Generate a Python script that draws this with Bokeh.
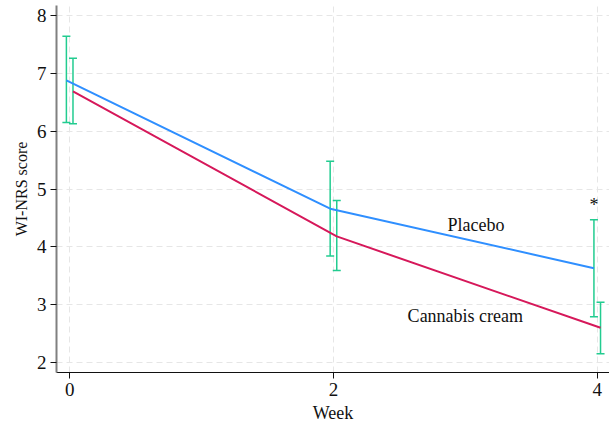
from bokeh.plotting import figure
from bokeh.models import ColumnDataSource, Whisker, TeeHead, FixedTicker, Range1d
from bokeh.core.properties import value
from bokeh.embed import file_html
from bokeh.resources import INLINE

weeks = [0, 2, 4]
placebo_mean = [6.88, 4.66, 3.63]
placebo_lower = [6.15, 3.84, 2.79]
placebo_upper = [7.64, 5.48, 4.47]
cannabis_mean = [6.69, 4.18, 2.60]
cannabis_lower = [6.13, 3.59, 2.15]
cannabis_upper = [7.26, 4.80, 3.04]
offset = 0.025
y_ticks = [2, 3, 4, 5, 6, 7, 8]
x_ticks = [0, 2, 4]

FONT = "Liberation Serif"
BLUE = "#2f8fff"
RED = "#d6185a"
GREEN = "#22cc90"

p = figure(width=609, height=426, output_backend="svg", toolbar_location=None,
           x_range=Range1d(-0.10, 4.093), y_range=Range1d(1.827, 8.173),
           min_border_left=56, min_border_right=0, min_border_top=5, min_border_bottom=54)
p.outline_line_color = None
p.background_fill_color = "white"

px = [w - offset for w in weeks]
cx = [w + offset for w in weeks]

p.line(px, placebo_mean, line_color=BLUE, line_width=2)
p.line(cx, cannabis_mean, line_color=RED, line_width=2)

for xs, lo, hi in [(px, placebo_lower, placebo_upper), (cx, cannabis_lower, cannabis_upper)]:
    src = ColumnDataSource(dict(base=xs, lower=lo, upper=hi))
    w = Whisker(base="base", lower="lower", upper="upper", source=src,
                line_color=GREEN, line_width=1.5,
                upper_head=TeeHead(size=8, line_color=GREEN, line_width=1.5),
                lower_head=TeeHead(size=8, line_color=GREEN, line_width=1.5))
    p.add_layout(w)

p.text(x=[3.08], y=[4.38], text=["Placebo"], text_font=value(FONT), text_font_size="18px",
       text_align="center", text_baseline="middle", text_color="#111111")
p.text(x=[3.0], y=[2.81], text=["Cannabis cream"], text_font=value(FONT), text_font_size="18px",
       text_align="center", text_baseline="middle", text_color="#111111")
p.text(x=[4 - offset], y=[4.72], text=["*"], text_font=value(FONT), text_font_size="18px",
       text_align="center", text_baseline="middle", text_color="#111111")

# grids
p.xgrid.ticker = FixedTicker(ticks=x_ticks)
p.ygrid.ticker = FixedTicker(ticks=y_ticks)
for g in (p.xgrid[0], p.ygrid[0]):
    g.grid_line_color = "#e6e6e6"
    g.grid_line_dash = "6 4"
    g.grid_line_width = 1

# axes
p.xaxis.ticker = FixedTicker(ticks=x_ticks)
p.yaxis.ticker = FixedTicker(ticks=y_ticks)
p.xaxis.axis_label = "Week"
p.yaxis.axis_label = "WI-NRS score"
for ax in (p.xaxis[0], p.yaxis[0]):
    ax.major_label_text_font = FONT
    ax.major_label_text_font_size = "19px"
    ax.major_label_text_color = "#111111"
    ax.axis_label_text_font = FONT
    ax.axis_label_text_font_style = "normal"
    ax.axis_label_text_font_size = "18px"
    ax.axis_label_text_color = "#111111"
    ax.major_tick_in = 0
    ax.major_tick_out = 6
    ax.minor_tick_line_color = None
    ax.major_label_standoff = 4
    ax.axis_label_standoff = 4
p.xaxis.axis_line_color = "#111111"
p.xaxis.major_tick_line_color = "#111111"
p.yaxis.axis_line_color = "#808080"
p.yaxis.axis_line_width = 2
p.yaxis.major_tick_line_color = "#111111"
p.yaxis.axis_label_text_font_size = "16px"

open("out.html", "w").write(file_html(p, INLINE))
